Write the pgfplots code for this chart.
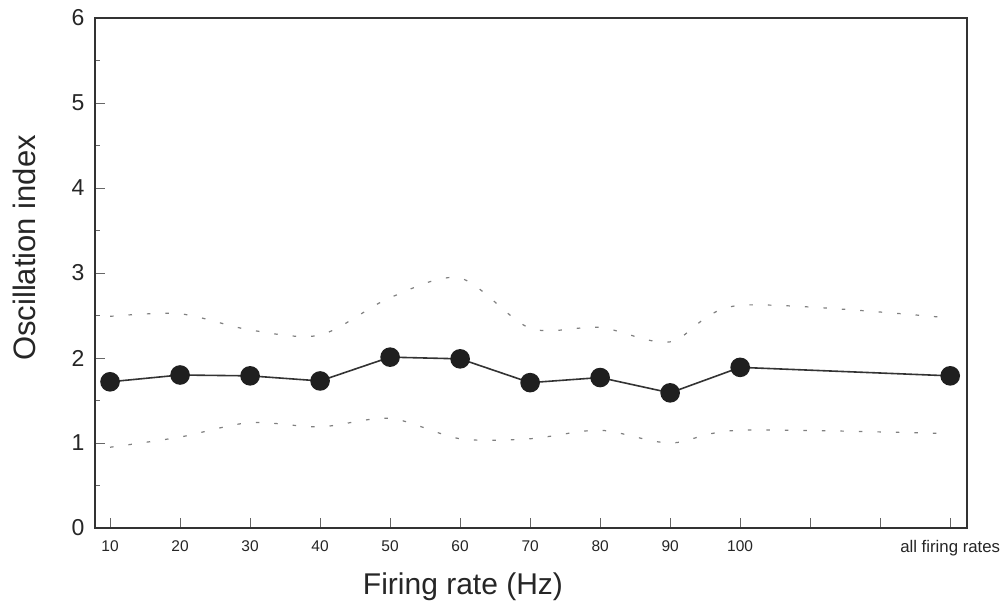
\documentclass[border=0pt]{standalone}
\usepackage{pgfplots}
\pgfplotsset{compat=1.18}
\usepackage{fontspec}
\setmainfont{Liberation Sans}
\begin{document}
\begin{tikzpicture}
\useasboundingbox (0,0) rectangle (1005bp,605bp);
\fill[white] (0,0) rectangle (1005bp,605bp);
\begin{axis}[
  at={(95bp,77bp)}, anchor=south west,
  scale only axis, width=872bp, height=510bp,
  xmin=7.85, xmax=132.4, ymin=0, ymax=6,
  axis line style={line width=1.4bp, black!80},
  xtick={10,20,30,40,50,60,70,80,90,100,110,120,130},
  xticklabels={10,20,30,40,50,60,70,80,90,100,,,{\fontsize{16.8bp}{18bp}\selectfont all firing rates}},
  ytick={0,1,2,3,4,5,6},
  minor ytick={0.5,1.5,2.5,3.5,4.5,5.5},
  xtick pos=bottom, ytick pos=left,
  tick align=inside,
  major tick length=10bp, minor tick length=5bp,
  tick style={black!60, line width=0.7bp},
  /pgf/number format/assume math mode=true,
  xticklabel style={font=\fontsize{15.5bp}{17bp}\selectfont, yshift=-9bp},
  yticklabel style={font=\fontsize{23bp}{25bp}\selectfont, xshift=-7bp},
  xlabel={Firing rate (Hz)}, ylabel={Oscillation index},
  xlabel style={font=\fontsize{30bp}{34bp}\selectfont, text=black!85, at={(axis description cs:0.422,-0.115)}, anchor=center},
  ylabel style={font=\fontsize{31bp}{34bp}\selectfont, text=black!85, at={(axis description cs:-0.0814,0.549)}, anchor=center},
  ticklabel style={text=black!85},
]
\addplot[black!50, line width=1.2bp, dash pattern=on 3.5bp off 15bp, smooth, tension=0.5] coordinates {
 (10,2.49) (20,2.52) (30,2.33) (40,2.27) (50,2.71) (60,2.94) (70,2.35) (80,2.36) (90,2.19) (100,2.62) (130,2.47)};
\addplot[black!50, line width=1.2bp, dash pattern=on 3.5bp off 15bp, smooth, tension=0.5] coordinates {
 (10,0.95) (20,1.07) (30,1.24) (40,1.19) (50,1.29) (60,1.05) (70,1.05) (80,1.15) (90,1.0) (100,1.15) (130,1.11)};
\addplot[black!80, line width=1.6bp, mark=*, mark size=9bp, mark options={fill=black!88, draw=black!88}] coordinates {
 (10,1.72) (20,1.80) (30,1.79) (40,1.73) (50,2.01) (60,1.99) (70,1.71) (80,1.77) (90,1.59) (100,1.89) (130,1.79)};
\end{axis}
\end{tikzpicture}
\end{document}
